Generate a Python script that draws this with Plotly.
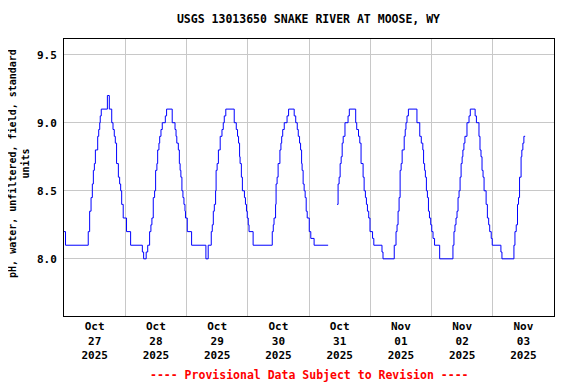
import plotly.graph_objects as go
from datetime import datetime, timedelta

# ---- data: change points of the 15-minute pH record (hours since 2025-10-27 00:00) ----
hours = [
    0, 0.6, 9.5, 10.05, 10.6, 11.1, 11.5, 11.9, 12.3, 13.2, 13.6, 14.0, 14.2, 14.6, 17.0, 17.75,
    18.7, 19.2, 19.7, 20.1, 20.6, 21.3, 21.8, 22.2, 22.6, 23.2, 24.5, 26.1, 30.7, 31.2, 32.2, 32.8,
    33.55, 34.06, 34.45, 34.97, 35.5, 35.9, 36.4, 36.7, 37.2, 37.5, 38.0, 38.5, 39.7, 40.2, 42.4,
    43.5, 43.9, 44.2, 44.8, 45.2, 45.5, 45.8, 46.2, 46.6, 47.0, 47.4, 47.6, 48.3, 50.0,
    55.6, 56.5, 57.7, 58.1, 58.5, 58.9, 59.4, 59.6, 60.0, 60.5, 61.2, 61.9, 62.4, 62.8, 63.4,
    66.7, 67.5, 68.0, 68.4, 68.8, 69.0, 69.5, 69.9, 70.7, 71.1, 71.5, 71.8, 72.2, 72.5, 74.1,
    81.6, 82.0, 82.3, 82.9, 83.1, 83.5, 83.9, 84.6, 85.0, 85.3, 85.7, 86.3, 87.4, 88.0, 90.2,
    90.8, 91.4, 91.8, 92.3, 92.7, 93.1, 93.3, 93.7, 94.1, 94.5, 94.9, 95.3, 96.1, 96.7, 98.0,
    103.5, 105.0,
    107.0, 107.4, 107.8, 108.2, 108.6, 109.0, 109.4, 110.1, 111.3, 111.8, 114.3, 114.7, 115.4,
    115.9, 116.4, 117.2, 117.6, 118.1, 118.5, 118.9, 119.4, 119.9, 120.9, 121.4, 124.6, 125.0,
    129.4, 130.1, 130.5, 130.9, 131.3, 131.7, 132.1, 132.5, 133.3, 133.7, 134.0, 134.4, 134.95,
    138.3, 139.4, 140.0, 140.6, 140.9, 141.3, 141.6, 142.0, 142.4, 142.8, 143.2, 143.7, 144.1,
    144.6, 145.2, 147.2,
    152.4, 152.8, 153.2, 153.6, 154.0, 154.4, 154.8, 155.2, 155.6, 156.0, 156.3, 156.7, 157.1,
    157.9, 158.7, 159.2, 161.1, 161.6, 162.6, 163.0, 163.4, 163.8, 164.2, 164.6, 165.4, 165.9,
    166.4, 166.8, 167.4, 167.8, 171.2, 171.6,
    176.3, 176.7, 177.2, 177.7, 178.1, 178.5, 179.1, 179.4, 179.8, 180.2, 180.7,
]
ph_values = [
    8.2, 8.1, 8.2, 8.35, 8.45, 8.55, 8.65, 8.7, 8.8, 8.9, 8.95, 9.0, 9.05, 9.1, 9.2, 9.1,
    9.0, 8.95, 8.9, 8.85, 8.7, 8.6, 8.55, 8.5, 8.4, 8.3, 8.2, 8.1, 8.05, 8.0, 8.05, 8.1,
    8.2, 8.25, 8.3, 8.45, 8.5, 8.65, 8.7, 8.8, 8.85, 8.9, 8.95, 9.0, 9.05, 9.1, 9.0,
    8.95, 8.9, 8.85, 8.8, 8.7, 8.65, 8.6, 8.5, 8.45, 8.4, 8.35, 8.3, 8.2, 8.1,
    8.0, 8.1, 8.2, 8.25, 8.35, 8.4, 8.5, 8.65, 8.7, 8.8, 8.9, 8.95, 9.0, 9.05, 9.1,
    9.0, 8.95, 8.9, 8.85, 8.75, 8.7, 8.6, 8.5, 8.45, 8.4, 8.35, 8.3, 8.25, 8.2, 8.1,
    8.2, 8.25, 8.3, 8.4, 8.55, 8.6, 8.7, 8.8, 8.85, 8.9, 8.95, 9.0, 9.05, 9.1, 9.05,
    9.0, 8.95, 8.9, 8.85, 8.8, 8.7, 8.65, 8.55, 8.5, 8.45, 8.35, 8.3, 8.2, 8.15, 8.1,
    8.1, None,
    8.4, 8.55, 8.6, 8.7, 8.75, 8.85, 8.9, 9.0, 9.05, 9.1, 9.0, 8.95, 8.9,
    8.85, 8.7, 8.6, 8.5, 8.45, 8.4, 8.35, 8.3, 8.2, 8.15, 8.1, 8.05, 8.0,
    8.1, 8.2, 8.25, 8.35, 8.45, 8.65, 8.7, 8.8, 8.9, 8.95, 9.0, 9.05, 9.1,
    9.0, 8.9, 8.85, 8.8, 8.7, 8.65, 8.6, 8.5, 8.45, 8.35, 8.3, 8.25, 8.2,
    8.15, 8.1, 8.0,
    8.1, 8.2, 8.25, 8.3, 8.35, 8.45, 8.5, 8.6, 8.7, 8.75, 8.8, 8.85, 8.9,
    9.0, 9.05, 9.1, 9.05, 9.0, 8.9, 8.8, 8.75, 8.65, 8.6, 8.5, 8.4, 8.3,
    8.25, 8.2, 8.15, 8.1, 8.05, 8.0,
    8.1, 8.2, 8.25, 8.4, 8.45, 8.6, 8.75, 8.8, 8.85, 8.9, 8.9,
]
day_labels = ["Oct<br>27<br>2025", "Oct<br>28<br>2025", "Oct<br>29<br>2025", "Oct<br>30<br>2025",
              "Oct<br>31<br>2025", "Nov<br>01<br>2025", "Nov<br>02<br>2025", "Nov<br>03<br>2025"]
y_ticks = [8.0, 8.5, 9.0, 9.5]
y_tick_text = ["8.0", "8.5", "9.0", "9.5"]

start = datetime(2025, 10, 27)
x = [start + timedelta(hours=h) for h in hours]
noons = [start + timedelta(days=i, hours=12) for i in range(len(day_labels))]
midnights = [start + timedelta(days=i) for i in range(len(day_labels) + 1)]

FONT = "DejaVu Sans Mono"
GRID = "#c8c8c8"

fig = go.Figure()
fig.add_trace(go.Scatter(x=x, y=ph_values, mode="lines", line=dict(color="#0000ff", width=1, shape="hv"),
                         connectgaps=False, showlegend=False, hoverinfo="skip"))

# the page adds an 8px body margin, so the figure is 568x376 and offsets are reduced by 8px
fig.update_layout(
    width=568, height=376,
    margin=dict(l=56, r=22, t=31, b=68),
    paper_bgcolor="white", plot_bgcolor="white",
    font=dict(family=FONT, size=11, color="black", weight="bold"),
    title=dict(text="USGS 13013650 SNAKE RIVER AT MOOSE, WY", x=300.5 / 568, xanchor="center",
               y=1 - 11 / 376, yanchor="middle", yref="container",
               font=dict(family=FONT, size=11.5, color="black", weight="bold")),
    xaxis=dict(type="date", range=[midnights[0], midnights[-1]],
               tickmode="array", tickvals=noons, ticktext=day_labels,
               showgrid=False, ticks="", zeroline=False,
               showline=True, linecolor="black", linewidth=1, mirror=True,
               tickfont=dict(family=FONT, size=11, color="black", weight="bold"),
               minor=dict(tickmode="array", tickvals=midnights, showgrid=True,
                          gridcolor=GRID, gridwidth=1, ticks="")),
    yaxis=dict(range=[7.58, 9.615], tickmode="array", tickvals=y_ticks, ticktext=y_tick_text,
               showgrid=True, gridcolor=GRID, gridwidth=1, ticks="", zeroline=False,
               showline=True, linecolor="black", linewidth=1, mirror=True,
               ticklabelstandoff=4,
               tickfont=dict(family=FONT, size=11, color="black", weight="bold")),
    annotations=[
        dict(text="pH, water, unfiltered, field, standard<br>units", textangle=-90,
             xref="paper", yref="paper", x=0, xshift=-45, y=0.549, xanchor="center", yanchor="middle",
             showarrow=False, font=dict(family=FONT, size=10, color="black", weight="bold")),
        dict(text="---- Provisional Data Subject to Revision ----",
             xref="paper", yref="paper", x=0.5, y=-(375 - 316) / 277, xanchor="center", yanchor="middle",
             showarrow=False, font=dict(family=FONT, size=11.5, color="red", weight="bold")),
    ],
)

fig.write_html("out.html")
